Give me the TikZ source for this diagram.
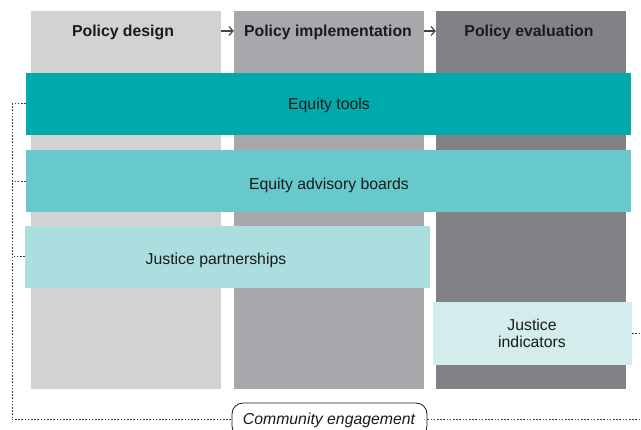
\documentclass[tikz,border=0pt]{standalone}
\usepackage{fontspec}
\setmainfont{Liberation Sans}
\usetikzlibrary{arrows.meta}
\definecolor{colA}{HTML}{D1D2D4}
\definecolor{colB}{HTML}{A7A8AC}
\definecolor{colC}{HTML}{808285}
\definecolor{barA}{HTML}{00A9AC}
\definecolor{barB}{HTML}{68C9CC}
\definecolor{barC}{HTML}{ABDEDF}
\definecolor{barD}{HTML}{D3EDEC}
\definecolor{txt}{HTML}{1A1A1A}
\definecolor{dotc}{HTML}{3A3A3A}
\definecolor{arr}{HTML}{444444}
\tikzset{
  column/.style={draw=none, minimum width=190pt, minimum height=378pt, inner sep=0pt},
  head/.style={font=\bfseries\fontsize{15.8}{18}\selectfont, text=txt, inner sep=0pt, anchor=base},
  bar/.style={draw=none, inner sep=0pt},
  lbl/.style={font=\fontsize{15.8}{18}\selectfont, text=txt, inner sep=0pt, anchor=base},
  flow/.style={draw=arr, line width=1.2pt, -{Straight Barb[length=4pt,width=9pt,line width=1.2pt]}},
  dots/.style={draw=dotc, line width=1pt, dash pattern=on 1.6pt off 1.6pt},
}
\begin{document}
\begin{tikzpicture}[x=1pt,y=-1pt]
\clip (0,0) rectangle (641,430);
\useasboundingbox (0,0) rectangle (641,430);
% columns
\node[column, fill=colA] (c1) at (126,200) {};
\node[column, fill=colB] (c2) at (329,200) {};
\node[column, fill=colC] (c3) at (531,200) {};
\node[head] (h1) at (123,37) {Policy design};
\node[head] (h2) at (328,37) {Policy implementation};
\node[head] (h3) at (529,37) {Policy evaluation};
\coordinate (arry) at (0,31);
\draw[flow] (c1.east |- arry) -- (c2.west |- arry);
\draw[flow] (c2.east |- arry) -- (c3.west |- arry);
% bars
\node[bar, fill=barA, minimum width=605pt, minimum height=62pt] (et) at (328.5,104) {};
\node[lbl] (etl) at (329,110) {Equity tools};
\node[bar, fill=barB, minimum width=605pt, minimum height=62pt] (ab) at (328.5,181.5) {};
\node[lbl] (abl) at (329,190) {Equity advisory boards};
\node[bar, fill=barC, minimum width=405pt, minimum height=62pt] (jp) at (227.5,257) {};
\node[lbl] (jpl) at (216,265) {Justice partnerships};
\node[bar, fill=barD, minimum width=199pt, minimum height=63pt] (ji) at (532.5,333.5) {};
\node[lbl] (jil1) at (532,330.5) {Justice};
\node[lbl] (jil2) at (532,347.5) {indicators};
% community engagement
\node[draw=txt, line width=0.8pt, fill=white, rounded corners=11pt, minimum width=195pt, minimum height=34pt, inner sep=0pt] (ce) at (329.5,420) {};
\node[lbl, font=\itshape\fontsize{15.8}{18}\selectfont] (cel) at (329,425) {Community engagement};
\coordinate (tl) at (12,104);
\coordinate (bl) at (12,420);
\coordinate (br) at (641,420);
\draw[dots] (et.west |- tl) -- (tl) -- (bl) -- (ce.west);
\draw[dots] (ab.west) -- (ab.west -| tl);
\draw[dots] (jp.west) -- (jp.west -| tl);
\draw[dots] (ce.east) -- (br);
\draw[dots] (ji.east) -- (ji.east -| br);
\end{tikzpicture}
\end{document}
